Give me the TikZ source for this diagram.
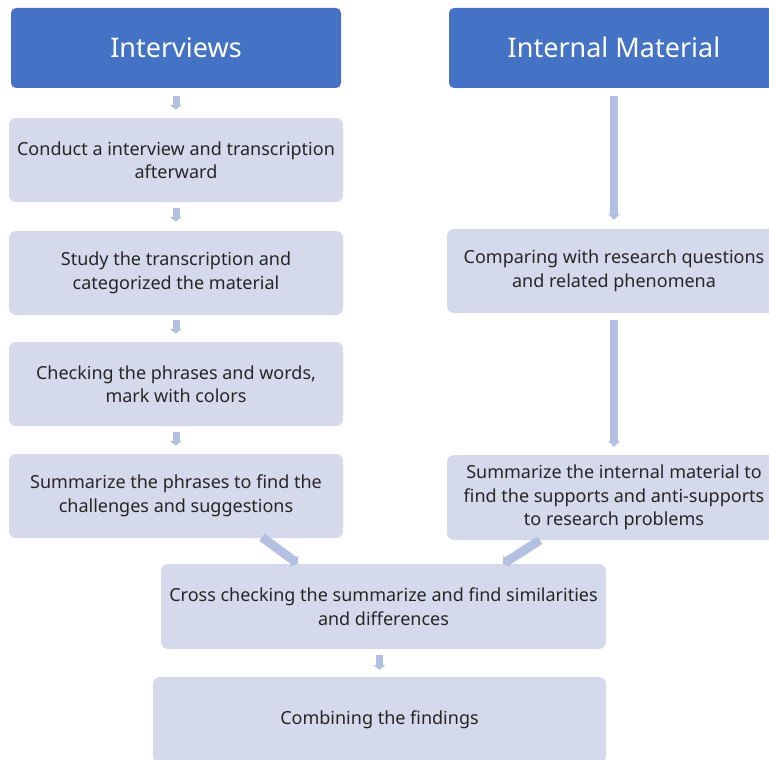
\documentclass[tikz,border=0pt]{standalone}
\usepackage{fontspec}
\setmainfont{Noto Sans}
\usetikzlibrary{arrows.meta}
\definecolor{headblue}{HTML}{4472C4}
\definecolor{stepfill}{HTML}{D4DAEC}
\definecolor{flowarrow}{HTML}{B3C0E2}
\tikzset{
  head/.style={fill=headblue, rounded corners=5pt, inner sep=0pt, text=white,
    font=\fontsize{27}{32}\selectfont, align=center},
  stepbox/.style={fill=stepfill, rounded corners=7pt, inner sep=0pt, text=black!85,
    font=\fontsize{18}{23.5}\selectfont, align=center},
  smallarrow/.style={draw=flowarrow, line width=7pt,
    -{Triangle[width=12pt,length=5pt]}},
  longarrow/.style={draw=flowarrow, line width=7.5pt,
    -{Triangle[width=12pt,length=6pt]}},
  slantarrow/.style={draw=flowarrow, line width=9pt,
    -{Triangle[width=14pt,length=5pt]}},
}
\begin{document}
\begin{tikzpicture}[x=1pt,y=-1pt]
\useasboundingbox (0,0) rectangle (769,760);
\clip (0,0) rectangle (769,760);

% column headers
\node[head, minimum width=330pt, minimum height=80pt, text depth=0pt] (hint) at (176,48)
  {\raisebox{1.5pt}{Interviews}};
\node[head, minimum width=330pt, minimum height=80pt, text depth=0pt] (hmat) at (614,48)
  {\raisebox{1.5pt}{Internal Material}};

% interview steps
\node[stepbox, minimum width=334pt, minimum height=84pt] (s1) at (176,160)
  {Conduct a interview and transcription\\afterward};
\node[stepbox, minimum width=334pt, minimum height=84pt] (s2) at (176,273)
  {Study the transcription and\\categorized the material};
\node[stepbox, minimum width=334pt, minimum height=84pt] (s3) at (176,384)
  {Checking the phrases and words,\\mark with colors};
\node[stepbox, minimum width=334pt, minimum height=84pt] (s4) at (176,496)
  {Summarize the phrases to find the\\challenges and suggestions};

% internal material steps
\node[stepbox, minimum width=334pt, minimum height=84pt] (m1) at (614,271)
  {Comparing with research questions\\and related phenomena};
\node[stepbox, minimum width=334pt, minimum height=85pt] (m2) at (614,497.5)
  {Summarize the internal material to\\find the supports and anti-supports\\to research problems};

% merged steps
\node[stepbox, minimum width=445pt, minimum height=85pt] (cross) at (383.5,606.5)
  {Cross checking the summarize and find similarities\\and differences};
\node[stepbox, minimum width=453pt, minimum height=86pt] (comb) at (379.5,720)
  {Combining the findings};

% connectors
\draw[smallarrow, shorten <=8pt, shorten >=8pt] (hint.south) -- (s1.north);
\draw[smallarrow, shorten <=6pt, shorten >=9pt] (s1.south) -- (s2.north);
\draw[smallarrow, shorten <=5pt, shorten >=8pt] (s2.south) -- (s3.north);
\draw[smallarrow, shorten <=6pt, shorten >=8pt] (s3.south) -- (s4.north);
\draw[longarrow, shorten <=8pt, shorten >=9pt] (hmat.south) -- (m1.north);
\draw[longarrow, shorten <=7pt, shorten >=8pt] (m1.south) -- (m2.north);
\draw[slantarrow] ([xshift=86pt,yshift=1pt]s4.south) -- ([xshift=-85.5pt]cross.north);
\draw[slantarrow] ([xshift=-74pt]m2.south) -- ([xshift=119.5pt]cross.north);
\draw[smallarrow, shorten <=6pt, shorten >=7pt] (comb.north |- cross.south) -- (comb.north);
\end{tikzpicture}
\end{document}
